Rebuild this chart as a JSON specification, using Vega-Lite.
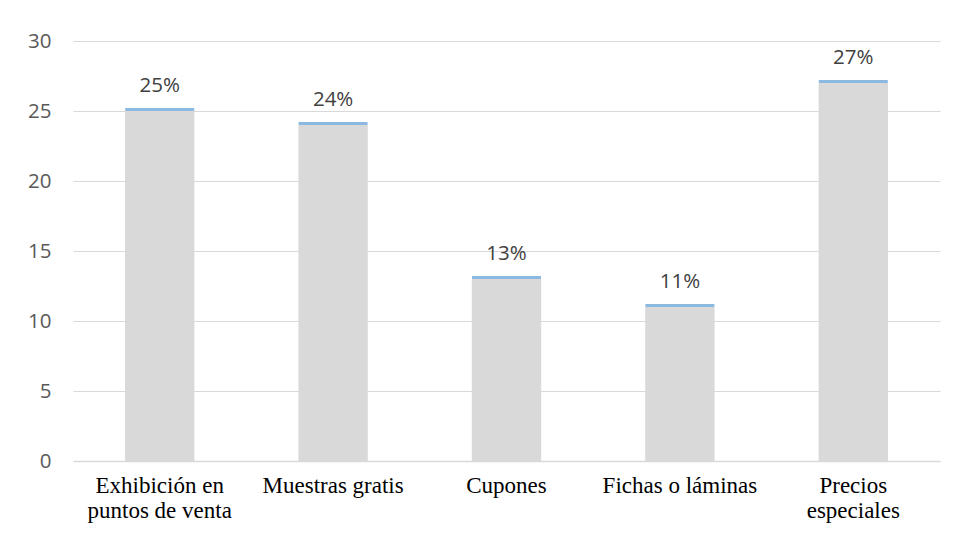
{
  "$schema": "https://vega.github.io/schema/vega-lite/v6.json",
  "width": 867,
  "height": 420,
  "autosize": {"type": "none"},
  "padding": {"left": 73, "top": 41, "right": 16, "bottom": 77},
  "background": "white",
  "config": {"view": {"stroke": null}},
  "data": {
    "values": [
      {"cat": "Exhibición en|puntos de venta", "value": 25, "pct": "25%"},
      {"cat": "Muestras gratis", "value": 24, "pct": "24%"},
      {"cat": "Cupones", "value": 13, "pct": "13%"},
      {"cat": "Fichas o láminas", "value": 11, "pct": "11%"},
      {"cat": "Precios|especiales", "value": 27, "pct": "27%"}
    ]
  },
  "encoding": {
    "x": {
      "field": "cat",
      "type": "nominal",
      "sort": null,
      "scale": {"paddingInner": 0.6, "paddingOuter": 0.3},
      "axis": {
        "title": null,
        "labelAngle": 0,
        "labelFont": "Liberation Serif",
        "labelFontSize": 23,
        "labelColor": "#000000",
        "labelLineHeight": 25,
        "labelPadding": 13,
        "labelExpr": "split(datum.label, '|')",
        "ticks": false,
        "domainColor": "#d9d9d9",
        "domainWidth": 1.5
      }
    },
    "y": {
      "field": "value",
      "type": "quantitative",
      "scale": {"domain": [0, 30], "nice": false},
      "axis": {
        "title": null,
        "values": [0, 5, 10, 15, 20, 25, 30],
        "labelFont": "Open Sans",
        "labelFontSize": 20.5,
        "labelColor": "#595959",
        "labelPadding": 22,
        "ticks": false,
        "domain": false,
        "gridColor": "#d9d9d9",
        "gridWidth": 1.2
      }
    }
  },
  "layer": [
    {"mark": {"type": "bar", "color": "#d9d9d9"}},
    {"mark": {"type": "tick", "color": "#5b9bd5", "thickness": 3, "size": 69, "yOffset": -1.5}},
    {
      "mark": {"type": "text", "font": "Open Sans", "fontSize": 20.5, "color": "#404040", "baseline": "alphabetic", "dy": -19},
      "encoding": {"text": {"field": "pct"}}
    }
  ]
}
